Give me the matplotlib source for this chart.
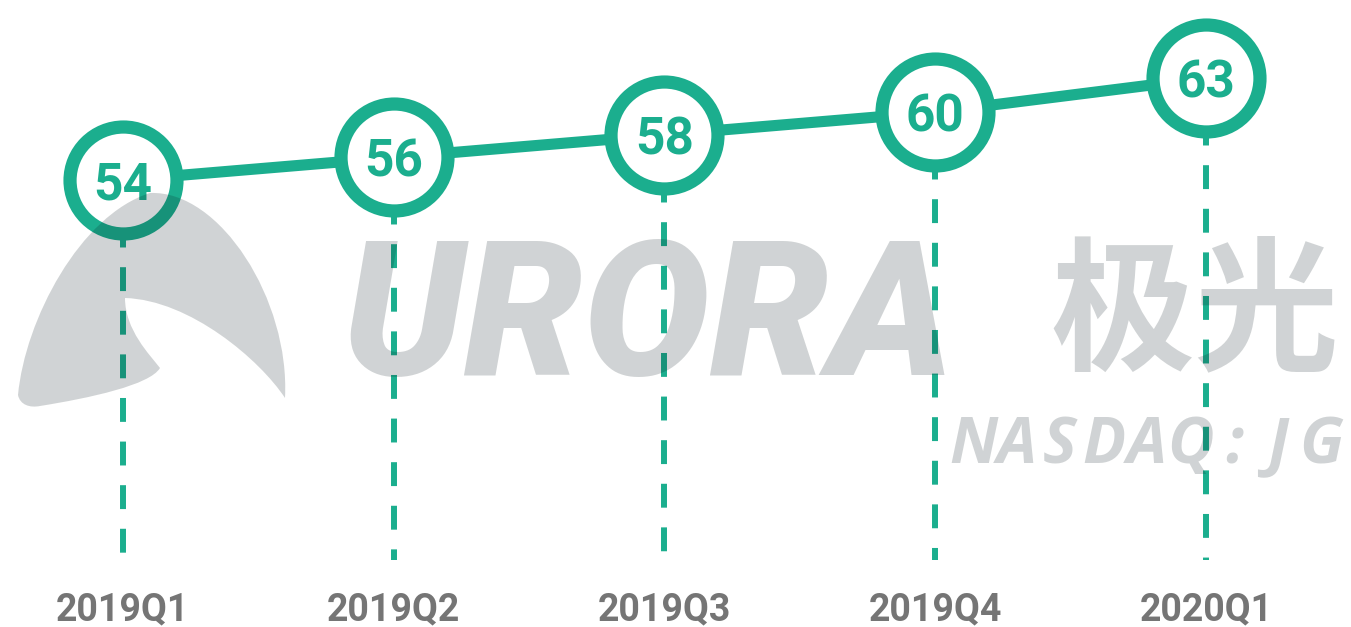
import matplotlib
matplotlib.use("Agg")
import matplotlib.pyplot as plt
from matplotlib.path import Path
from matplotlib.patches import PathPatch

# data
quarters = ["2019Q1", "2019Q2", "2019Q3", "2019Q4", "2020Q1"]
values = [54, 56, 58, 60, 63]

GREEN = "#1bae8e"
GRAY = "#757575"
W, H = 1351, 627

fig = plt.figure(figsize=(W / 100, H / 100), dpi=100)
ax = fig.add_axes([0, 0, 1, 1])
ax.set_xlim(-0.454, 4.536)
ax.set_ylim(14.55, 69.9)
ax.axis("off")

xs = list(range(len(quarters)))
base = 20.5

# dashed drop lines
for x, v in zip(xs, values):
    ax.plot([x, x], [v, base], color=GREEN, lw=4.3, zorder=1,
            linestyle=(0, (4.0, 3.3)), solid_capstyle="butt", dash_capstyle="butt")

ax.plot(xs, values, color=GREEN, lw=8, zorder=2, solid_capstyle="butt")
ax.plot(xs, values, "o", ms=77, mfc="white", mec=GREEN, mew=9.5, zorder=3)

for x, v in zip(xs, values):
    ax.text(x, v, str(v), ha="center", va="center_baseline", fontsize=37,
            fontweight="bold", family="Roboto", color=GREEN, zorder=4)

for x, q in zip(xs, quarters):
    ax.text(x, 16.05, q, ha="center", va="center", fontsize=27,
            fontweight="bold", family="Roboto", color=GRAY)

# watermark (drawn on top, translucent)
wm = dict(color="#0a1a20", alpha=0.19, zorder=10)


def px(x, y):
    return (x / W, 1 - y / H)


verts = [px(150, 193),
         px(80, 215), px(25, 320), px(18, 395),
         px(20, 405), px(30, 408), px(40, 406),
         px(90, 398), px(150, 385), px(160, 368),
         px(150, 355), px(125, 330), px(125, 298),
         px(190, 300), px(260, 360), px(285, 398),
         px(290, 300), px(220, 190), px(150, 193)]
codes = [Path.MOVETO] + [Path.CURVE4] * 18
fig.patches.append(PathPatch(Path(verts, codes), transform=fig.transFigure,
                             lw=0, facecolor=wm["color"], alpha=wm["alpha"],
                             zorder=10))

fig.text(*px(342, 375), "URORA", ha="left", va="baseline", fontsize=136,
         fontweight="black", style="italic", family="Roboto", **wm)
fig.text(*px(1195, 358), "极光", ha="center", va="baseline", fontsize=104,
         fontweight="bold", family="Noto Sans CJK SC", **wm)
for i, ch in enumerate("NASDAQ:JG"):
    fig.text(*px(973 + 43.5 * i, 463), ch, ha="center", va="baseline",
             fontsize=46, fontweight="bold", style="italic",
             family="Open Sans", **wm)

fig.savefig("out.png", dpi=100)
